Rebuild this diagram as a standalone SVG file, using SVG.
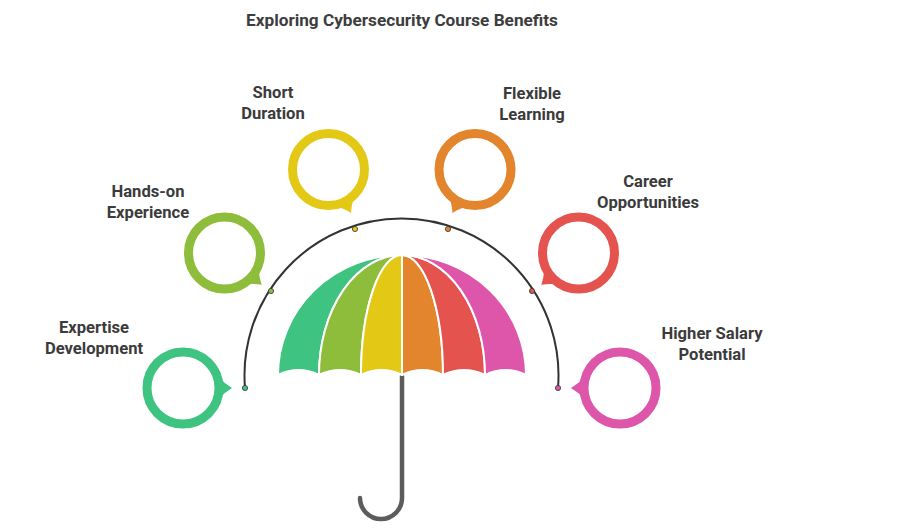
<svg xmlns="http://www.w3.org/2000/svg" xmlns:xlink="http://www.w3.org/1999/xlink" width="900" height="530" viewBox="0 0 900 530">
  <style>
    .title { font-family: Roboto, "Liberation Sans", sans-serif; font-weight: 700; font-size: 17.2px; fill: #3d3d3d; text-anchor: middle; }
    .label { font-family: Roboto, "Liberation Sans", sans-serif; font-weight: 700; font-size: 16.6px; fill: #3b3b3b; text-anchor: middle; }
    .ring { fill: none; stroke-width: 9; }
    .panel { stroke: #ffffff; stroke-width: 2; stroke-linejoin: round; }
    .arc { fill: none; stroke: #333333; stroke-width: 2; }
    .dot { stroke: #333333; stroke-width: 0.8; }
  </style>
  <defs>
    <path id="tail" d="M35,-11.5 Q42,-4 49,0 Q42,4 35,11.5 Z"/>
  </defs>
  <rect width="900" height="530" fill="#ffffff"/>
  <text class="title" x="402" y="26">Exploring Cybersecurity Course Benefits</text>

  <g id="connectors">
    <path class="arc" d="M245,388 A157 157 0 1 1 558,388"/>
    <circle class="dot" cx="245" cy="388" r="2.6" fill="#3ec380"/>
    <circle class="dot" cx="271" cy="291" r="2.6" fill="#8dbd3b"/>
    <circle class="dot" cx="355" cy="229" r="2.6" fill="#e3c815"/>
    <circle class="dot" cx="448" cy="229" r="2.6" fill="#e2852c"/>
    <circle class="dot" cx="532" cy="291" r="2.6" fill="#e5534f"/>
    <circle class="dot" cx="558" cy="388" r="2.6" fill="#de56aa"/>
  </g>

  <g id="umbrella">
    <path d="M402,376 V498 A21 21 0 0 1 360,498" fill="none" stroke="#5c5c5c" stroke-width="4.5" stroke-linecap="round"/>
    <path class="panel" fill="#3ec380" d="M402,255 A124 120 0 0 0 278,375 Q298.5,365 319,375 A83 120 0 0 1 402,255 Z"/>
    <path class="panel" fill="#8dbd3b" d="M402,255 A83 120 0 0 0 319,375 Q340,365 361,375 A41 120 0 0 1 402,255 Z"/>
    <path class="panel" fill="#e3c815" d="M402,255 A41 120 0 0 0 361,375 Q381.5,365 402,375 Z"/>
    <path class="panel" fill="#e2852c" d="M402,255 L402,375 Q422.5,365 443,375 A41 120 0 0 0 402,255 Z"/>
    <path class="panel" fill="#e5534f" d="M402,255 A41 120 0 0 1 443,375 Q464,365 485,375 A83 120 0 0 0 402,255 Z"/>
    <path class="panel" fill="#de56aa" d="M402,255 A83 120 0 0 1 485,375 Q505.5,365 526,375 A124 120 0 0 0 402,255 Z"/>
  </g>

  <g id="expertise-development">
    <circle class="ring" cx="183" cy="388" r="36" stroke="#3ec380"/>
    <use xlink:href="#tail" transform="translate(183,388) rotate(0)" fill="#3ec380"/>
    <text class="label" x="94" y="333">Expertise</text>
    <text class="label" x="94" y="354">Development</text>
  </g>

  <g id="hands-on-experience">
    <circle class="ring" cx="224.5" cy="253" r="36" stroke="#8dbd3b"/>
    <use xlink:href="#tail" transform="translate(224.5,253) rotate(40.5)" fill="#8dbd3b"/>
    <text class="label" x="148" y="197">Hands-on</text>
    <text class="label" x="148" y="218">Experience</text>
  </g>

  <g id="short-duration">
    <circle class="ring" cx="328.5" cy="169.5" r="36" stroke="#e3c815"/>
    <use xlink:href="#tail" transform="translate(328.5,169.5) rotate(62.6)" fill="#e3c815"/>
    <text class="label" x="273" y="98">Short</text>
    <text class="label" x="273" y="119">Duration</text>
  </g>

  <g id="flexible-learning">
    <circle class="ring" cx="475" cy="169.5" r="36" stroke="#e2852c"/>
    <use xlink:href="#tail" transform="translate(475,169.5) rotate(117.4)" fill="#e2852c"/>
    <text class="label" x="532" y="99">Flexible</text>
    <text class="label" x="532" y="120">Learning</text>
  </g>

  <g id="career-opportunities">
    <circle class="ring" cx="578.5" cy="253" r="36" stroke="#e5534f"/>
    <use xlink:href="#tail" transform="translate(578.5,253) rotate(139.5)" fill="#e5534f"/>
    <text class="label" x="648" y="187">Career</text>
    <text class="label" x="648" y="208">Opportunities</text>
  </g>

  <g id="higher-salary-potential">
    <circle class="ring" cx="620" cy="388" r="36" stroke="#de56aa"/>
    <use xlink:href="#tail" transform="translate(620,388) rotate(180)" fill="#de56aa"/>
    <text class="label" x="712" y="339">Higher Salary</text>
    <text class="label" x="712" y="360">Potential</text>
  </g>
</svg>
